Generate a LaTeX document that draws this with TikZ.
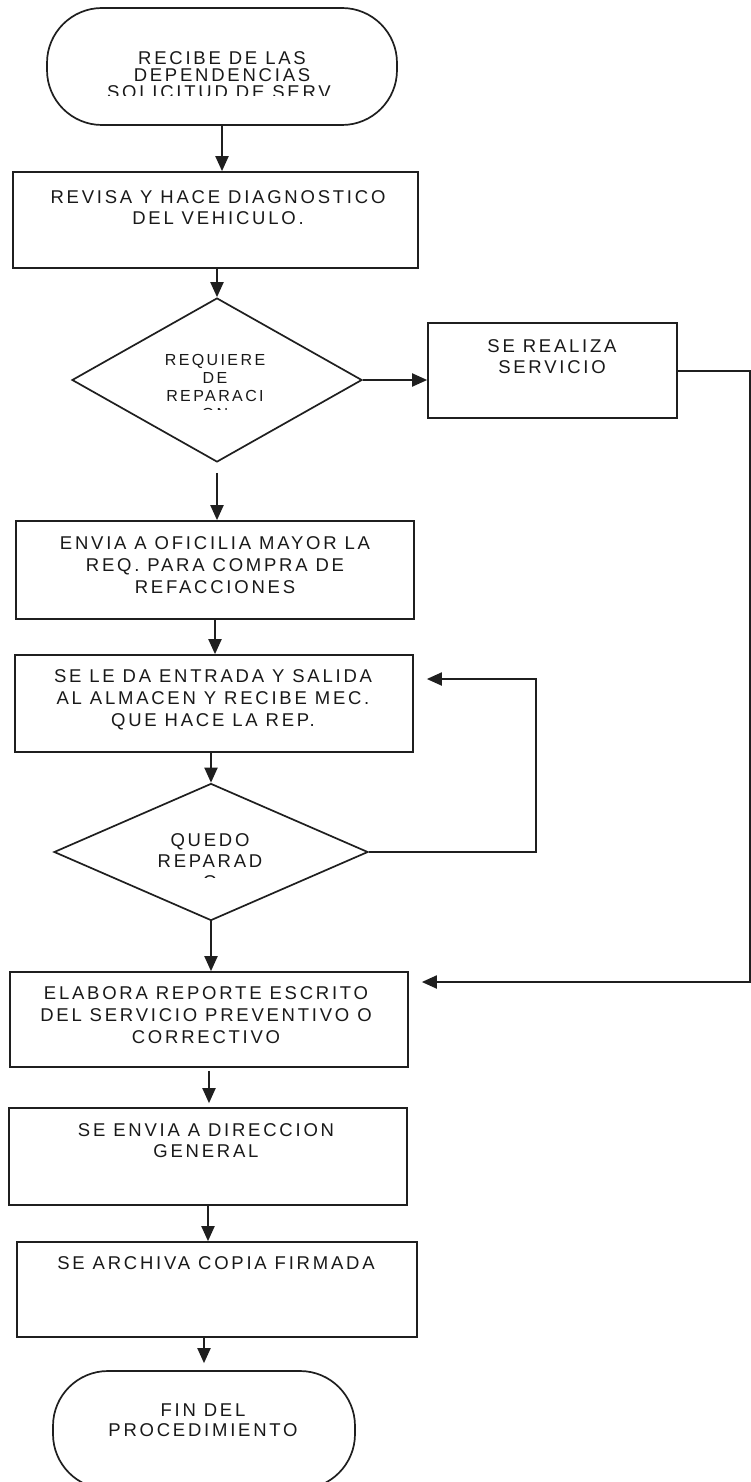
\documentclass[tikz,border=0pt]{standalone}
\usepackage{fontspec}
\setmainfont{Liberation Sans}[LetterSpace=15]
\usetikzlibrary{shapes.geometric,arrows.meta}
\tikzset{
  shp/.style={draw=black!88, line width=1.7pt, inner sep=0pt},
  procbox/.style={shp, rectangle},
  termbox/.style={shp, rectangle, rounded corners=55pt},
  decbox/.style={shp, diamond},
  txt/.style={inner sep=0pt, align=center, anchor=north, text=black!90,
              font=\fontsize{18.5}{#1}\selectfont},
  txt/.default=21.5,
  conn/.style={draw=black!88, line width=2pt, -{Triangle[length=15pt,width=13pt]}}
}
\begin{document}
\begin{tikzpicture}[x=1pt,y=-1pt]
\clip (0,0) rectangle (751,1482);
\fill[white] (0,0) rectangle (751,1482);

% shapes
\node[termbox, minimum width=350pt, minimum height=117pt] (start) at (222,66.5) {};
\node[procbox, minimum width=405pt, minimum height=96pt] (rev) at (215.5,220) {};
\node[decbox, minimum width=290pt, minimum height=164pt] (dec1) at (217,380) {};
\node[procbox, minimum width=249pt, minimum height=95pt] (srv) at (552.5,370.5) {};
\node[procbox, minimum width=398pt, minimum height=98pt] (env) at (215,570) {};
\node[procbox, minimum width=398pt, minimum height=97pt] (alm) at (214,703.5) {};
\node[decbox, minimum width=314pt, minimum height=137pt] (dec2) at (211,852) {};
\node[procbox, minimum width=398pt, minimum height=95pt] (rep) at (209,1019.5) {};
\node[procbox, minimum width=398pt, minimum height=97pt] (dir) at (208,1156.5) {};
\node[procbox, minimum width=400pt, minimum height=95pt] (arch) at (217,1289.5) {};
\node[termbox, minimum width=302pt, minimum height=118pt] (fin) at (204,1430) {};

% texts
\begin{scope}
  \clip (40,0) rectangle (400,95.5);
  \node[txt=17] (startt) at (222,51.4) {RECIBE DE LAS\\DEPENDENCIAS\\SOLICITUD DE SERV.};
\end{scope}
\node[txt=21] (revt) at (218,190.4) {REVISA Y HACE DIAGNOSTICO\\DEL VEHICULO.};
\begin{scope}
  \clip (80,300) rectangle (350,409);
  \node[inner sep=0pt, align=center, anchor=north, text=black!90,
        font=\fontsize{16}{18}\selectfont] (dec1t) at (215,354.2) {REQUIERE\\DE\\REPARACI\\ON};
\end{scope}
\node[txt=21] (srvt) at (552,339.4) {SE REALIZA\\SERVICIO};
\node[txt=22] (envt) at (215,536.4) {ENVIA A OFICILIA MAYOR LA\\REQ. PARA COMPRA DE\\REFACCIONES};
\node[txt=22] (almt) at (213,669.4) {SE LE DA ENTRADA Y SALIDA\\AL ALMACEN Y RECIBE MEC.\\QUE HACE LA REP.};
\begin{scope}
  \clip (60,790) rectangle (360,877.5);
  \node[txt=21] (dec2t) at (210,833.4) {QUEDO\\REPARAD\\O};
\end{scope}
\node[txt=22] (rept) at (206,986.4) {ELABORA REPORTE ESCRITO\\DEL SERVICIO PREVENTIVO O\\CORRECTIVO};
\node[txt=21] (dirt) at (206,1123.4) {SE ENVIA A DIRECCION\\GENERAL};
\node[txt=21] (archt) at (216,1256.4) {SE ARCHIVA COPIA FIRMADA};
\node[txt=20] (fint) at (203,1403.4) {FIN DEL\\PROCEDIMIENTO};

% connectors
\draw[conn] (start.south) -- (start.south |- rev.north);
\draw[conn] (dec1.north |- rev.south) -- (dec1.north);
\draw[conn] (dec1.east) -- (dec1.east -| srv.west);
\draw[conn, shorten <=10pt] (dec1.south) -- (dec1.south |- env.north);
\draw[conn] (env.south) -- (env.south |- alm.north);
\draw[conn] (dec2.north |- alm.south) -- (dec2.north);
\draw[conn] (dec2.south) -- (dec2.south |- rep.north);
\draw[conn, shorten <=3pt, shorten >=4pt] (rep.south) -- (rep.south |- dir.north);
\draw[conn] (dir.south) -- (dir.south |- arch.north);
\draw[conn, shorten >=7pt] (fin.north |- arch.south) -- (fin.north);

\coordinate (loopc) at (536,852);
\coordinate (loopt) at (536,679);
\draw[conn, shorten >=13pt] (dec2.east) -- (loopc) -- (loopt) -- (loopt -| alm.east);

\coordinate (srvc) at (750,370.5);
\coordinate (srvd) at (750,982);
\draw[conn, shorten >=13pt] (srv.east) -- (srvc) -- (srvd) -- (srvd -| rep.east);
\end{tikzpicture}
\end{document}
